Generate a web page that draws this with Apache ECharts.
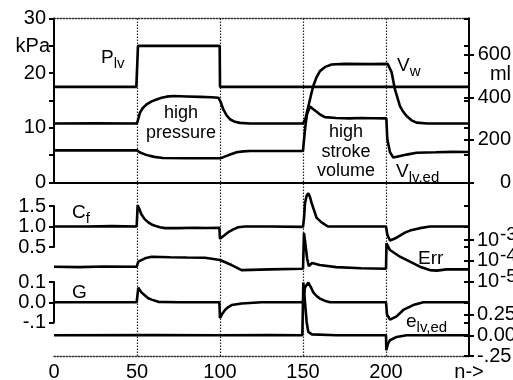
<!DOCTYPE html>
<html>
<head>
<meta charset="utf-8">
<script src="https://cdn.jsdelivr.net/npm/echarts@6/dist/echarts.min.js"></script>
<style>
  html, body { margin: 0; padding: 0; background: #fff; }
  #chart { width: 513px; height: 380px; }
</style>
</head>
<body>
<div id="chart"></div>
<script>
// ---- data: [n, value] ----
// top panel, kPa (left axis)
const pLv = [[0, 17.5], [49.6, 17.5], [50.6, 25], [99.8, 25], [100, 17.5], [250, 17.5]]

// top panel, ml (right axis)
const vW = [[0, 277], [25, 278], [50, 277], [51.8, 328], [53.5, 350], [55.8, 367], [58.8, 381],
  [61.8, 390], [64.8, 398], [67.8, 403], [72, 406], [80, 404], [88, 402], [95, 400], [99, 398],
  [100.4, 378], [102, 343], [104, 315], [106, 297], [109, 285], [112, 280], [118, 277], [150, 277],
  [151.5, 300], [153.2, 357], [154.8, 410], [156.2, 453], [158.2, 495], [160.2, 523], [163.5, 543],
  [167.2, 554], [175, 557], [190, 556], [201, 557], [203.4, 517], [205.4, 437], [208.4, 359],
  [210.4, 332], [212.4, 312], [215.4, 292], [218.4, 281], [225, 277], [250, 277]]

const vLvEd = [[0, 151], [50, 151], [51.8, 141], [54.8, 132], [57.8, 125], [61.5, 119], [65.6, 115],
  [80, 114], [100, 114], [102, 119], [104, 125], [107, 134], [110, 142], [114, 146], [118, 148],
  [150, 148], [150.6, 200], [151.4, 262], [152.4, 320], [154.2, 357], [156, 345], [158.2, 332],
  [160.5, 318], [163.2, 307], [170, 303], [178, 301], [185, 303], [192, 302], [200.2, 301],
  [200.8, 203], [202.4, 142], [204.4, 117], [207.2, 122], [212.4, 131], [218.4, 140], [230, 142],
  [240, 144], [250, 143]]

// lower traces
const cF = [[0, 1.0], [20, 1.0], [35, 1.01], [49.8, 1.0], [50.4, 1.52], [51.5, 1.42], [52.6, 1.3],
  [54.6, 1.18], [56.8, 1.1], [58.8, 1.05], [60.8, 1.02], [63.8, 0.98], [66.8, 0.96], [75, 0.96],
  [85, 0.97], [92, 0.965], [99.6, 0.97], [100, 0.7], [102.5, 0.78], [105, 0.86], [108, 0.93],
  [111, 0.98], [115, 1.0], [130, 1.0], [150, 0.99], [150.6, 1.2], [151.2, 1.57], [152.2, 1.75],
  [153.2, 1.81], [154.2, 1.72], [155.2, 1.57], [157.2, 1.33], [158.2, 1.21], [161.2, 1.1],
  [165, 1.0], [180, 1.0], [200, 1.0], [200.8, 0.8], [202.4, 0.66], [205, 0.7], [208.4, 0.78],
  [211.4, 0.85], [214.4, 0.9], [220.4, 0.96], [226.5, 1.0], [250, 1.0]]

const err = [[0, 5.2e-5], [15, 5.0e-5], [30, 5.4e-5], [49.8, 5.2e-5], [50.8, 9.1e-5], [54.8, 1.32e-4],
  [58.8, 1.58e-4], [70, 1.5e-4], [80, 1.45e-4], [90.9, 1.41e-4], [100, 1.1e-4], [107, 6.3e-5],
  [113, 3.6e-5], [130, 3.9e-5], [150, 4.2e-5], [150.6, 2.2e-3], [151.6, 5.0e-4], [152.5, 1.26e-4],
  [153.5, 5.6e-5], [155.5, 7.9e-5], [160, 6.3e-5], [170, 5.0e-5], [185, 4.4e-5], [200, 4.2e-5],
  [200.3, 6.9e-4], [202.4, 3.3e-4], [208.4, 1.58e-4], [214.4, 9.1e-5], [220.4, 5.25e-5],
  [226.4, 3.6e-5], [230.5, 3.4e-5], [236.5, 3.9e-5], [250, 3.9e-5]]

const gVal = [[0, 0], [49.8, 0], [50.8, 0.072], [52.5, 0.05], [54.8, 0.033], [56.8, 0.02],
  [58.8, 0.013], [62.8, 0.002], [75, 0], [99.6, 0], [100, -0.078], [101.5, -0.055], [103, -0.038],
  [105, -0.024], [107, -0.014], [113, -0.006], [125, 0], [150, 0], [151.2, 0.073], [153.2, 0.097],
  [154.7, 0.075], [156.2, 0.049], [158, 0.032], [160.2, 0.018], [163, 0.008], [166.3, 0], [200, 0],
  [200.6, -0.06], [202.4, -0.086], [206.4, -0.07], [210.4, -0.038], [216.4, -0.014], [222.5, 0],
  [250, 0]]

const eLvEd = [[0, 0], [60, 0.003], [100, 0], [130, 0.002], [149.6, 0], [150.2, 0.635], [151.2, 0.4],
  [152.2, 0.16], [153.2, 0.04], [155.4, 0.01], [170, 0], [200, 0], [200.2, -0.18], [201.2, -0.1],
  [202.4, -0.06], [206.4, -0.02], [212.4, 0], [250, 0]]

// tick labels
const kPaLabels = [0, 10, 20, 30]
const mlTicks = [0, 200, 400, 600]

// ---- styling ----
const FONT = 'Liberation Sans'
const LABEL = { color: '#000', fontFamily: FONT, fontSize: 20, showMinLabel: true, showMaxLabel: true,
  hideOverlap: false }
const AXIS_LINE = { show: true, onZero: false, lineStyle: { color: '#000', width: 2 } }
const DOTTED = { show: true, onZero: false, lineStyle: { color: '#333', width: 1.3, type: [1.5, 1.5] } }
const NO_LINE = { show: false, onZero: false }

const chart = echarts.init(document.getElementById('chart'))

const gridAt = (top, height) => ({ left: 54, right: 44, top, height, containLabel: false,
  outerBoundsMode: 'none' })
const grids = [
  gridAt(18.5, 164),   // 0 top panel
  gridAt(18.5, 337.5), // 1 frame
  gridAt(206, 41),     // 2 Cf
  gridAt(240, 41.7),   // 3 Err
  gridAt(282, 40.5),   // 4 G
  gridAt(314.5, 41.5)  // 5 e
]

const hiddenX = (gi) => ({ type: 'value', gridIndex: gi, min: 0, max: 250, axisLine: NO_LINE,
  axisTick: { show: false }, axisLabel: { show: false }, splitLine: { show: false } })

const xAxes = [
  { type: 'value', gridIndex: 0, min: 0, max: 250, axisLine: AXIS_LINE, axisTick: { show: false },
    axisLabel: { show: false }, splitLine: { show: false } },
  { type: 'value', gridIndex: 0, min: 0, max: 250, position: 'top', axisLine: DOTTED,
    axisTick: { show: false }, axisLabel: { show: false }, splitLine: { show: false } },
  { type: 'value', gridIndex: 1, min: 0, max: 250, interval: 50, axisLine: NO_LINE,
    axisTick: { show: false }, axisLabel: { show: false },
    splitLine: { show: true, showMinLine: false, showMaxLine: false,
      lineStyle: { color: '#222', width: 1.2, type: [1.5, 1.5] } } },
  hiddenX(2),
  hiddenX(3),
  hiddenX(4),
  { type: 'value', gridIndex: 5, min: 0, max: 250, interval: 50, axisLine: DOTTED,
    axisTick: { show: false }, splitLine: { show: false },
    axisLabel: { ...LABEL, margin: 6, formatter: v => (v === 250 ? 'n->' : String(v)) } }
]

// y axis pair: one with outer ticks + labels, one with inner ticks so ticks cross the line
function yPair (base, label, innerLabel) {
  const outer = Object.assign({
    type: 'value', axisLine: AXIS_LINE, splitLine: { show: false },
    axisTick: { show: true, length: 5, lineStyle: { color: '#000', width: 2 } },
    axisLabel: Object.assign({}, LABEL, { margin: 8 }, label || {})
  }, base)
  const inner = Object.assign({}, outer, {
    axisLine: NO_LINE,
    axisTick: Object.assign({}, outer.axisTick, { inside: true }),
    axisLabel: innerLabel ? Object.assign({}, LABEL, innerLabel) : { show: false }
  })
  return [outer, inner]
}

const yAxes = [
  ...yPair({ gridIndex: 0, min: 0, max: 30, interval: 5 },
    { customValues: kPaLabels }),
  // ml labels right-aligned against the page edge
  ...yPair({ gridIndex: 0, min: 0, max: 770, position: 'right',
    axisTick: { show: true, length: 5, customValues: mlTicks, lineStyle: { color: '#000', width: 2 } } },
    { customValues: mlTicks, align: 'right', margin: 42 }),
  { type: 'value', gridIndex: 1, min: 0, max: 1, position: 'right', axisLine: AXIS_LINE,
    axisTick: { show: false }, axisLabel: { show: false }, splitLine: { show: false } },
  ...yPair({ gridIndex: 2, min: 0.5, max: 1.5, interval: 0.5 },
    { formatter: v => v.toFixed(1) }),
  // Err: base "10" on the outer axis, the raised exponent on the twin axis
  ...yPair({ gridIndex: 3, type: 'log', logBase: 10, min: 1e-5, max: 1e-3, position: 'right' },
    { formatter: () => '10' },
    { formatter: v => String(Math.round(Math.log10(v))), margin: 31, fontSize: 19,
      verticalAlign: 'bottom', lineHeight: 10 }),
  ...yPair({ gridIndex: 4, min: -0.1, max: 0.1, interval: 0.1 },
    { formatter: v => (v < 0 ? '-.1' : v.toFixed(1)) }),
  ...yPair({ gridIndex: 5, min: -0.25, max: 0.25, interval: 0.25, position: 'right' },
    { formatter: v => (v < 0 ? '-.25' : v.toFixed(2)) })
]

const trace = (data, xi, yi) => ({
  type: 'line', data, xAxisIndex: xi, yAxisIndex: yi, showSymbol: false, clip: false,
  lineStyle: { color: '#000', width: 2.6 }, animation: false
})

const series = [
  trace(pLv, 0, 0),
  trace(vW, 0, 2),
  trace(vLvEd, 0, 2),
  trace(cF, 3, 5),
  trace(err, 4, 7),
  trace(gVal, 5, 9),
  trace(eLvEd, 6, 11)
]

// annotation texts
const SUB = { fontSize: 15, fontFamily: FONT, fill: '#000', lineHeight: 14, verticalAlign: 'bottom' }
function note (x, y, text, opts) {
  return {
    type: 'text', x, y, silent: true,
    style: Object.assign({
      text, fill: '#000', fontFamily: FONT, fontSize: 19, lineHeight: 26,
      align: 'left', verticalAlign: 'middle', rich: { s: SUB }
    }, opts || {})
  }
}

const graphic = [
  note(101, 58, 'P{s|lv}'),
  note(181, 123, 'high\npressure', { align: 'center', lineHeight: 20, fontSize: 18 }),
  note(346, 152, 'high\nstroke\nvolume', { align: 'center', lineHeight: 19.5, fontSize: 18 }),
  note(397, 66, 'V{s|w}'),
  note(511, 74, 'ml', { align: 'right', fontSize: 20 }),
  note(396, 172, 'V{s|lv,ed}'),
  note(72, 213, 'C{s|f}'),
  note(72, 293, 'G'),
  note(418, 259, 'Err'),
  note(406, 322, 'e{s|lv,ed}'),
  note(50, 46, 'kPa', { align: 'right', fontSize: 20 })
]

chart.setOption({
  animation: false,
  backgroundColor: '#fff',
  grid: grids,
  xAxis: xAxes,
  yAxis: yAxes,
  series,
  graphic
})
</script>
</body>
</html>
